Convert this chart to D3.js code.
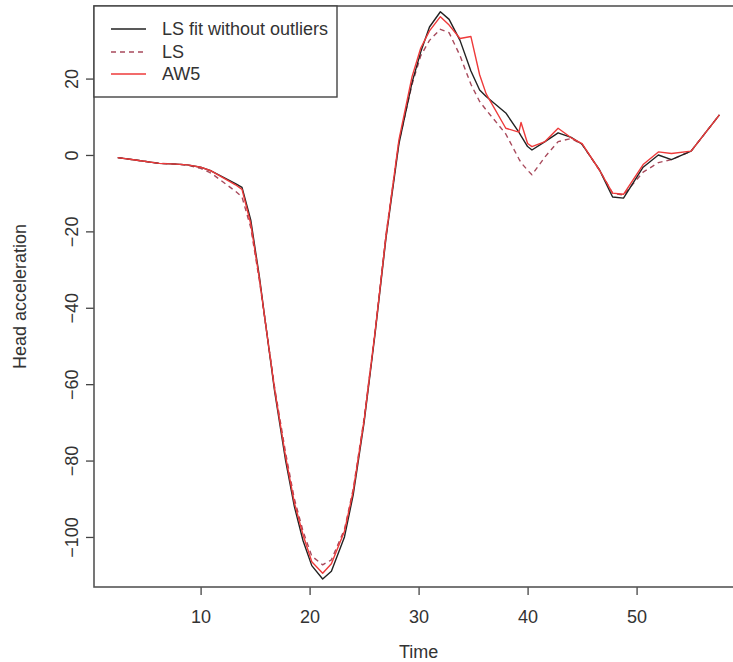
<!DOCTYPE html>
<html>
<head>
<meta charset="utf-8">
<script src="https://cdn.jsdelivr.net/npm/d3@7"></script>
<style>
  body { margin: 0; background: #fff; }
  svg { display: block; font-family: "Liberation Sans", Arial, sans-serif; }
</style>
</head>
<body>
<div id="chart"></div>
<script>
// time points (ms) and the three fitted curves
var times   = [2.4, 4.0, 6.2, 7.8, 8.8, 10.0, 11.0, 13.2, 13.8, 14.6, 15.4, 16.0, 16.8, 17.8, 18.6, 19.4, 20.2, 21.2, 22.0, 23.2, 24.0, 25.0, 26.0, 27.0, 28.2, 29.4, 30.2, 31.0, 32.0, 32.8, 33.8, 34.8, 35.6, 36.2, 38.0, 39.2, 39.4, 40.0, 40.4, 41.6, 42.8, 44.0, 45.0, 46.6, 47.8, 48.8, 50.6, 52.0, 53.2, 55.0, 57.6];
var lsClean = [-0.7, -1.3, -2.2, -2.4, -2.6, -3.2, -4.2, -7.5, -8.5, -17, -32, -45, -62, -80, -92, -101, -107.5, -111, -109, -100, -89, -70, -47, -22, 3, 19, 27, 33.5, 37.5, 35.5, 30, 22, 17, 15.3, 11, 6, 5, 2.2, 1.3, 3.5, 5.8, 4.6, 2.8, -3.9, -11, -11.3, -3.2, 0, -1.2, 1, 10.5];
var lsFit   = [-0.7, -1.3, -2.2, -2.4, -2.7, -3.5, -4.8, -9.5, -11, -19, -33, -45, -61, -78, -90, -98.5, -105, -107.3, -106, -98, -87.5, -69, -46.5, -21, 3.5, 18.5, 26, 30, 32.9, 32, 26, 18.5, 14, 11.8, 5.5, -1, -2, -4, -5.2, -0.5, 3.5, 4.3, 2.8, -4, -10, -10.5, -4.5, -2, -1.2, 1, 10.5];
var aw5     = [-0.7, -1.3, -2.2, -2.4, -2.6, -3.2, -4.2, -7.8, -9, -18, -32.5, -45, -61.5, -79, -91, -99.5, -106.5, -109.5, -107, -98.5, -88, -69.5, -46.5, -21.5, 4, 20.5, 28, 32.5, 36.2, 34, 30.5, 31, 21, 16, 7, 6, 8.5, 3, 2.2, 3.5, 7, 4.5, 3, -4, -10, -10.3, -2.5, 0.8, 0.4, 1, 10.5];
var xTicks = [10, 20, 30, 40, 50];
var yTicks = [-100, -80, -60, -40, -20, 0, 20];
var seriesNames = ["LS fit without outliers", "LS", "AW5"];
var seriesColors = ["#222222", "#a84a5c", "#ee3a3a"];
var seriesDash = [null, "5,4", null];

var width = 733, height = 662;
var box = {left: 94, right: 743.4, top: 6, bottom: 587};

var svg = d3.select("#chart").append("svg")
  .attr("width", width)
  .attr("height", height);

var x = d3.scaleLinear().domain([0.22, 59.8]).range([box.left, box.right]);
var y = d3.scaleLinear().domain([-113.1, 39]).range([box.bottom, box.top]);

svg.append("clipPath").attr("id", "plotclip")
  .append("rect")
    .attr("x", box.left).attr("y", box.top)
    .attr("width", box.right - box.left).attr("height", box.bottom - box.top);

// curves
var allSeries = [lsClean, lsFit, aw5];
var line = d3.line()
  .x(function(d) { return x(d[0]); })
  .y(function(d) { return y(d[1]); });

var order = [1, 0, 2]; // dashed first, red on top
order.forEach(function(i) {
  svg.append("path")
    .datum(times.map(function(t, k) { return [t, allSeries[i][k]]; }))
    .attr("clip-path", "url(#plotclip)")
    .attr("fill", "none")
    .attr("stroke", seriesColors[i])
    .attr("stroke-width", 1.4)
    .attr("stroke-linejoin", "round")
    .attr("stroke-dasharray", seriesDash[i])
    .attr("d", line);
});

// x axis
var xAxis = svg.append("g")
  .attr("transform", "translate(0," + box.bottom + ")")
  .call(d3.axisBottom(x).tickValues(xTicks).tickSize(8).tickPadding(15).tickFormat(d3.format("d")));
xAxis.select(".domain").remove();
xAxis.selectAll("line").attr("stroke", "#444").attr("stroke-width", 1.3);
xAxis.selectAll("text").attr("fill", "#333").style("font-size", "18px");

// y axis
var yAxis = svg.append("g")
  .attr("transform", "translate(" + box.left + ",0)")
  .call(d3.axisLeft(y).tickValues(yTicks).tickSize(8).tickFormat(d3.format("d")));
yAxis.select(".domain").remove();
yAxis.selectAll("line").attr("stroke", "#444").attr("stroke-width", 1.3);
yAxis.selectAll("text")
  .attr("fill", "#333")
  .style("font-size", "18px")
  .attr("x", null).attr("dy", null)
  .attr("text-anchor", "middle")
  .attr("dominant-baseline", "central")
  .attr("transform", function(d) { return "translate(-22,0) rotate(-90)"; });

// plot box
svg.append("rect")
  .attr("x", box.left).attr("y", box.top)
  .attr("width", box.right - box.left).attr("height", box.bottom - box.top)
  .attr("fill", "none")
  .attr("stroke", "#555")
  .attr("stroke-width", 1.6);

// axis titles
svg.append("text")
  .attr("x", (box.left + box.right) / 2)
  .attr("y", 652)
  .attr("text-anchor", "middle")
  .attr("dominant-baseline", "central")
  .attr("fill", "#333")
  .style("font-size", "18px")
  .text("Time");

svg.append("text")
  .attr("transform", "translate(20," + ((box.top + box.bottom) / 2) + ") rotate(-90)")
  .attr("text-anchor", "middle")
  .attr("dominant-baseline", "central")
  .attr("fill", "#333")
  .style("font-size", "18px")
  .text("Head acceleration");

// legend
var legend = svg.append("g");
legend.append("rect")
  .attr("x", box.left).attr("y", box.top)
  .attr("width", 243).attr("height", 91)
  .attr("fill", "#fff")
  .attr("stroke", "#444")
  .attr("stroke-width", 1.4);

var legendY = [29, 52, 74];
seriesNames.forEach(function(name, i) {
  legend.append("line")
    .attr("x1", 111).attr("x2", 146)
    .attr("y1", legendY[i]).attr("y2", legendY[i])
    .attr("stroke", seriesColors[i])
    .attr("stroke-width", 1.4)
    .attr("stroke-dasharray", seriesDash[i]);
  legend.append("text")
    .attr("x", 162)
    .attr("y", legendY[i])
    .attr("dominant-baseline", "central")
    .attr("fill", "#333")
    .style("font-size", "18px")
    .text(name);
});
</script>
</body>
</html>
